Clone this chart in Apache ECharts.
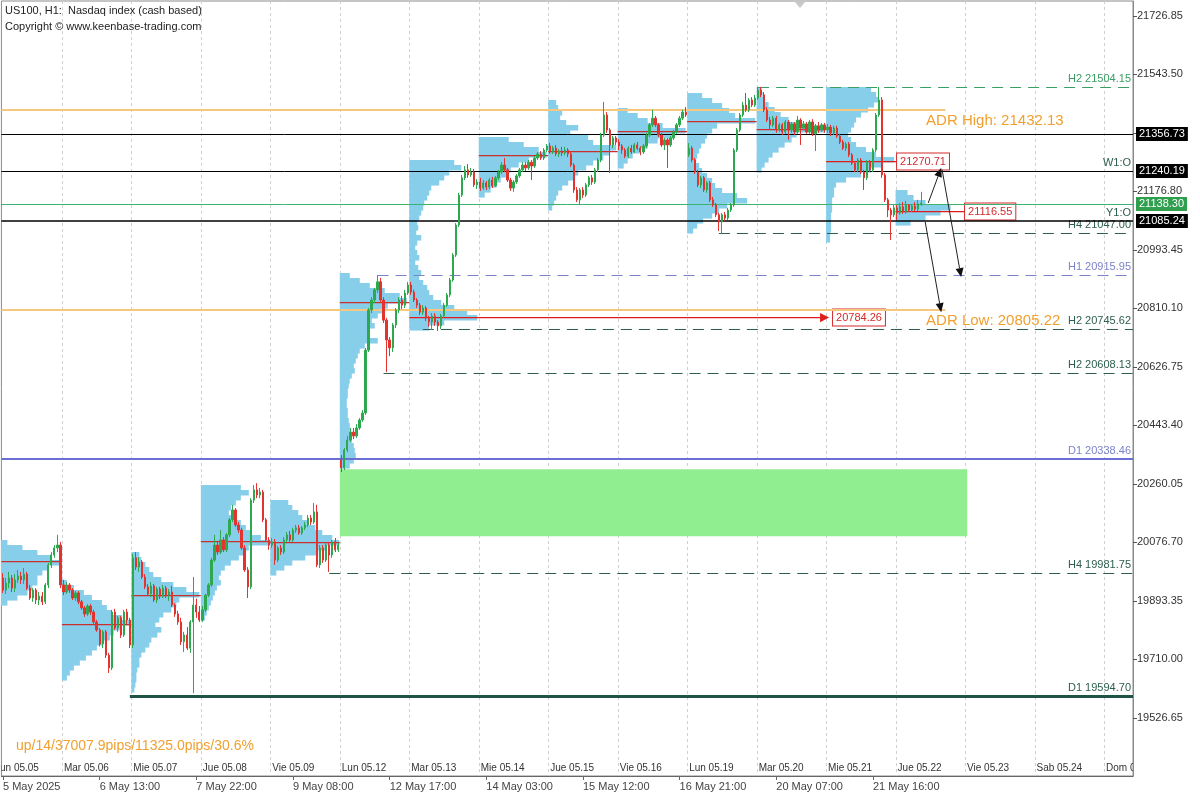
<!DOCTYPE html>
<html><head><meta charset="utf-8">
<script src="https://cdn.jsdelivr.net/npm/echarts@6/dist/echarts.min.js"></script>
<style>html,body{margin:0;padding:0;background:#fff}#c{width:1200px;height:800px}</style>
</head><body><div id="c"></div>
<script>
// ================= DATA =================
const firstBar = 3;          // bar index of the first visible H1 candle
const barsPerDay = 23;
// [open, close, low, high] per hourly bar
const bars = [
// Lun 05.05
[19965,19927,19918,19980],[19927,19949,19915,19965],[19949,19965,19933,19984],[19965,19933,19921,19974],[19933,19959,19921,19977],
[19959,19971,19949,19990],[19971,19959,19946,19984],[19959,19977,19946,19996],[19977,19933,19927,19984],[19933,19902,19896,19943],
[19902,19927,19890,19933],[19927,19896,19883,19933],[19896,19908,19880,19921],[19908,19890,19880,19921],[19890,19943,19883,19949],
[19943,20006,19933,20012],[20006,20037,19996,20046],[20037,20059,20028,20068],[20059,20068,20046,20100],[20068,19943,19933,20078],
// Mar 05.06
[19943,19921,19911,19959],[19921,19943,19915,19952],[19943,19927,19918,19949],[19927,19902,19896,19933],[19902,19918,19893,19924],
[19918,19890,19883,19924],[19890,19871,19865,19896],[19871,19852,19843,19877],[19852,19877,19846,19883],[19877,19858,19849,19883],
[19858,19827,19821,19865],[19827,19802,19796,19833],[19802,19758,19750,19808],[19758,19796,19745,19802],[19796,19723,19714,19802],
[19723,19683,19667,19730],[19683,19858,19676,19865],[19858,19808,19802,19868],[19808,19840,19796,19846],[19840,19786,19777,19846],
[19786,19858,19780,19865],[19858,19833,19821,19868],[19833,19755,19745,19840],
// Mie 05.07
[19755,20028,19745,20040],[20028,19999,19990,20046],[19999,20015,19984,20030],[20015,19968,19962,20021],[19968,19937,19930,19977],
[19937,19915,19908,19946],[19915,19940,19905,19952],[19940,19896,19890,19946],[19896,19930,19886,19937],[19930,19908,19899,19937],
[19908,19933,19902,19943],[19933,19911,19902,19940],[19911,19921,19893,19930],[19921,19880,19874,19940],[19880,19852,19843,19886],
[19852,19827,19818,19862],[19827,19765,19755,19840],[19765,19786,19733,19796],[19786,19745,19739,19811],[19745,19827,19730,19833],
[19827,19880,19604,19968],[19880,19858,19840,19900],[19858,19833,19827,19877],
// Jue 05.08
[19833,19865,19827,19877],[19865,19911,19858,19915],[19911,19943,19905,19949],[19943,20021,19937,20028],[20021,20068,20015,20100],
[20068,20046,20037,20078],[20046,20084,20040,20115],[20084,20053,20046,20093],[20053,20100,20046,20106],[20100,20147,20093,20153],
[20147,20178,20140,20194],[20178,20131,20125,20184],[20131,20115,20106,20140],[20115,20059,20053,20122],[20059,19990,19984,20068],
[19990,19937,19902,19999],[19937,20209,19930,20215],[20209,20241,20200,20256],[20241,20225,20215,20262],[20225,20234,20215,20247],
[20234,20147,20140,20241],[20147,20084,20078,20153],[20084,20068,20053,20093],
// Vie 05.09
[20068,20078,20059,20090],[20078,20021,20006,20087],[20021,20059,20015,20065],[20059,20046,20037,20068],[20046,20084,20040,20093],
[20084,20100,20078,20109],[20100,20084,20078,20112],[20084,20115,20078,20122],[20115,20122,20106,20131],[20122,20106,20100,20131],
[20106,20122,20100,20128],[20122,20131,20115,20140],[20131,20153,20125,20162],[20153,20140,20131,20162],[20140,20172,20134,20200],
[20172,20006,19999,20194],[20006,20059,19996,20068],[20059,20021,20012,20068],[20021,20068,20015,20078],[20068,20037,19984,20078],
[20037,20078,20028,20084],[20078,20053,20046,20090],[20053,20068,20046,20075],
// Lun 05.12
[20335,20310,20297,20350],[20310,20366,20303,20372],[20366,20397,20360,20410],[20397,20422,20391,20435],[20422,20410,20400,20435],
[20410,20435,20404,20447],[20435,20460,20429,20466],[20460,20482,20454,20491],[20482,20679,20476,20686],[20679,20805,20673,20811],
[20805,20836,20795,20845],[20836,20868,20827,20874],[20868,20893,20858,20914],[20893,20836,20827,20905],[20836,20773,20764,20845],
[20773,20711,20610,20780],[20711,20686,20660,20720],[20686,20758,20673,20764],[20758,20805,20748,20811],[20805,20836,20795,20845],
[20836,20820,20808,20849],[20820,20858,20811,20868],[20858,20883,20852,20893],
// Mar 05.13
[20883,20861,20852,20893],[20861,20836,20830,20868],[20836,20820,20811,20842],[20820,20798,20789,20827],[20798,20811,20789,20820],
[20811,20780,20770,20817],[20780,20767,20752,20786],[20767,20786,20742,20795],[20786,20767,20755,20795],[20767,20755,20739,20773],
[20755,20786,20745,20792],[20786,20820,20780,20827],[20820,20852,20814,20858],[20852,20899,20845,20905],[20899,20977,20893,20983],
[20977,21071,20971,21077],[21071,21165,21065,21172],[21165,21219,21159,21228],[21219,21244,21212,21256],[21244,21228,21219,21262],
[21228,21237,21222,21250],[21237,21197,21190,21247],[21197,21206,21184,21215],
// Mie 05.14
[21206,21187,21178,21219],[21187,21203,21181,21212],[21203,21190,21181,21209],[21190,21212,21184,21219],[21212,21194,21187,21222],
[21194,21219,21190,21225],[21219,21237,21212,21244],[21237,21259,21231,21268],[21259,21244,21237,21281],[21244,21212,21206,21250],
[21212,21187,21178,21219],[21187,21206,21175,21212],[21206,21225,21200,21231],[21225,21244,21219,21250],[21244,21259,21237,21268],
[21259,21250,21240,21268],[21250,21268,21244,21275],[21268,21256,21212,21275],[21256,21281,21250,21287],[21281,21294,21275,21300],
[21294,21281,21275,21303],[21281,21306,21275,21312],[21306,21319,21300,21325],
// Jue 05.15
[21319,21300,21294,21328],[21300,21312,21294,21319],[21312,21294,21287,21322],[21294,21303,21284,21309],[21303,21297,21287,21316],
[21297,21306,21290,21316],[21306,21294,21284,21312],[21294,21259,21253,21303],[21259,21181,21172,21265],[21181,21150,21143,21190],
[21150,21181,21134,21187],[21181,21165,21156,21190],[21165,21197,21159,21203],[21197,21219,21190,21225],[21219,21206,21197,21228],
[21206,21244,21200,21250],[21244,21275,21237,21281],[21275,21353,21268,21360],[21353,21416,21347,21457],[21416,21369,21360,21425],
[21369,21322,21234,21375],[21322,21344,21312,21350],[21344,21331,21322,21350],
// Vie 05.16
[21331,21319,21306,21340],[21319,21306,21294,21325],[21306,21287,21281,21312],[21287,21312,21281,21318],[21312,21300,21294,21322],
[21300,21322,21297,21328],[21322,21312,21306,21331],[21312,21300,21290,21318],[21300,21319,21294,21325],[21319,21353,21312,21360],
[21353,21385,21347,21391],[21385,21406,21378,21432],[21406,21385,21378,21413],[21385,21353,21347,21391],[21353,21322,21316,21360],
[21322,21338,21306,21344],[21338,21322,21250,21344],[21322,21344,21316,21350],[21344,21363,21338,21369],[21363,21385,21357,21391],
[21385,21406,21378,21413],[21406,21425,21400,21432],[21425,21416,21410,21441],
// Lun 05.19
[21291,21312,21284,21328],[21312,21275,21268,21319],[21275,21237,21231,21281],[21237,21197,21190,21244],[21197,21219,21187,21225],
[21219,21181,21175,21225],[21181,21203,21172,21209],[21203,21150,21143,21209],[21150,21134,21128,21159],[21134,21103,21096,21140],
[21103,21081,21052,21109],[21081,21103,21043,21109],[21103,21093,21084,21112],[21093,21118,21087,21125],[21118,21134,21112,21140],
[21134,21306,21128,21312],[21306,21369,21300,21375],[21369,21416,21363,21422],[21416,21447,21410,21457],[21447,21432,21425,21485],
[21432,21463,21425,21469],[21463,21447,21441,21472],[21447,21469,21441,21479],
// Mar 05.20
[21469,21494,21463,21504],[21494,21479,21472,21504],[21479,21432,21425,21488],[21432,21400,21394,21441],[21400,21385,21369,21410],
[21385,21406,21378,21413],[21406,21369,21360,21413],[21369,21385,21363,21391],[21385,21363,21353,21391],[21363,21394,21357,21400],
[21394,21369,21338,21400],[21369,21388,21360,21394],[21388,21363,21353,21394],[21363,21400,21357,21413],[21400,21375,21322,21406],
[21375,21388,21369,21397],[21388,21363,21357,21394],[21363,21394,21357,21400],[21394,21357,21350,21403],[21357,21382,21303,21388],
[21382,21369,21360,21394],[21369,21385,21363,21391],[21385,21369,21360,21391],
// Mie 05.21
[21369,21378,21360,21388],[21378,21360,21350,21385],[21360,21375,21353,21382],[21375,21350,21344,21382],[21350,21331,21325,21357],
[21331,21312,21306,21338],[21312,21325,21303,21331],[21325,21291,21284,21331],[21291,21265,21259,21297],[21265,21244,21237,21272],
[21244,21275,21237,21281],[21275,21237,21231,21281],[21237,21219,21181,21244],[21219,21268,21212,21275],[21268,21244,21237,21275],
[21244,21306,21237,21312],[21306,21416,21300,21422],[21416,21463,21410,21504],[21463,21228,21219,21472],[21228,21150,21143,21234],
[21150,21118,21096,21156],[21118,21103,21024,21125],[21103,21125,21096,21134],
// Jue 05.22
[21125,21109,21087,21134],[21109,21128,21103,21140],[21128,21112,21106,21143],[21112,21134,21106,21147],[21134,21118,21112,21137],
[21118,21131,21112,21137],[21131,21121,21115,21143],[21121,21137,21115,21150],[21137,21140,21131,21175]
];

const dayLabels = ['Lun 05.05','Mar 05.06','Mie 05.07','Jue 05.08','Vie 05.09','Lun 05.12','Mar 05.13','Mie 05.14',
  'Jue 05.15','Vie 05.16','Lun 05.19','Mar 05.20','Mie 05.21','Jue 05.22','Vie 05.23','Sab 05.24','Dom 05.25'];
const timeTickBars = [3,35,67,99,131,163,195,227,259,291];
const timeTickLabels = ['5 May 2025','6 May 13:00','7 May 22:00','9 May 08:00','12 May 17:00','14 May 03:00',
  '15 May 12:00','16 May 21:00','20 May 07:00','21 May 16:00'];
const priceTicks = [19526.65,19710.00,19893.35,20076.70,20260.05,20443.40,20626.75,20810.10,20993.45,21176.80,21360.15,21543.50,21726.85];

// daily volume profiles: top price of first bin + volumes per bin (top to bottom)
const profileBin = 15.67;
const profileTops = [20083.9,19958.5,20046.3,20256.3,20209.3,20920.7,21274.9,21347.0,21463.0,21437.9,21484.9,21503.7,21503.7,21180.9];
const profileVols = [
 [15,30,45,58,68,55,50,45,45,40,35,25,15],
 [5,12,22,30,40,45,50,60,68,58,52,48,40,35,30,24,18,12,8,5],
 [8,10,14,18,22,30,42,55,68,48,45,40,32,28,24,30,26,20,18,14,10,8,8,6,5,5,4,3],
 [40,48,40,35,30,28,35,40,45,50,60,69,48,45,38,30,24,20,18,20,16,14,12,10,8,6,4],
 [18,22,28,32,38,45,52,62,69,55,48,35,22,14,6],
 [10,20,30,45,60,67,48,42,38,32,35,30,28,38,25,20,18,16,14,15,12,10,9,8,8,7,7,8,8,9,10,10,12,12,14,15,16,14,10],
 [45,52,40,35,30,22,20,18,15,14,12,10,8,9,7,12,8,6,8,10,6,9,12,10,14,18,20,24,32,45,58,68,35,20],
 [30,45,60,68,50,40,32,28,22,18,12,6],
 [8,10,14,12,18,30,22,40,45,68,62,55,45,38,30,25,20,14,10,8,6,4],
 [10,20,30,45,68,55,40,30,22,15,10,6],
 [15,25,35,42,48,68,30,25,20,18,14,12,10,9,12,15,20,25,28,35,50,60,40,32,25,16,10,6],
 [5,6,8,12,18,24,32,45,68,40,35,28,22,16,12,8,5],
 [45,50,52,48,42,35,30,28,25,22,25,30,40,50,68,55,45,35,20,10,8,8,6,6,6,5,5,5,5,4,4],
 [12,18,30,55,45,30,15]
];
const pocPrices = [20018.1,19820.6,19911.5,20080.8,20077.6,20829.8,20784.26,21290.6,21303.1,21365.8,21397.1,21372.1,21270.71,21116.55];
const extPocDays = [6,12,13];
const extPocEndBars = [277.8,299.0,321.5];
const extPocTexts = ['20784.26','21270.71','21116.55'];

// horizontal levels
const levelPrices = [21504.15,21047.00,20915.95,20745.62,20608.13,20338.46,19981.75,19594.70,21356.73,21240.19,21138.30,21085.24];
const levelStartBars = [253,240,127,142,129,null,111,45,null,null,null,null];
const levelTexts = ['H2 21504.15','H4 21047.00','H1 20915.95','H2 20745.62','H2 20608.13','D1 20338.46','H4 19981.75','D1 19594.70','','W1:O','','Y1:O'];
const priceTags = [21356.73,21240.19,21138.30,21085.24];

const adrHigh = 21432.13, adrLow = 20805.22, adrEndBar = 315, adrTextBar = 308.6;
const zoneStartBar = 114.5, zoneEndBar = 322.2, zoneTop = 20306, zoneBottom = 20096;
// projected moves: [fromBar, fromPrice, toBar, toPrice]
const arrows = [[309.3,21140,313.6,21250],[313.9,21244,320.2,20908],[308.3,21081,313.6,20798]];

// ================= CHART =================
const X_MIN = 2.48, X_MAX = 377.1, Y_MIN = 19344.2, Y_MAX = 21773.2;
const VOL_TO_BARS = 1/3.0217;
const FONT = '"Liberation Sans", Arial, sans-serif';
const fnt = (s) => s + 'px ' + FONT;

const candleData = bars.map((b,k)=>[firstBar+k, b[0], b[1], b[2], b[3]]);
const profileRects = [];
profileVols.forEach((vols,d)=>{
  const x0 = d*barsPerDay - 0.5;
  vols.forEach((v,r)=>{ const top = profileTops[d]-r*profileBin; profileRects.push([x0, top, top-profileBin, v]); });
});
const pocData = pocPrices.map((p,d)=>{
  const e = extPocDays.indexOf(d);
  return [d*barsPerDay-0.5, p, e>=0 ? extPocEndBars[e] : (d+1)*barsPerDay-0.5, e];
});
function levelStyle(i){
  const t = levelTexts[i];
  if (i===8 || i===9) return {c:'#000', w:1, dash:null, tc:'#2d5e4e'};
  if (i===11) return {c:'#000', w:1.5, dash:null, tc:'#2d5e4e'};
  if (i===10) return {c:'#3cb371', w:1, dash:null, tc:'#2d5e4e'};
  if (t==='H2 21504.15') return {c:'#3a9d64', w:1, dash:[11,7], tc:'#3a9d64'};
  if (t.startsWith('H1')) return {c:'#7c82c8', w:1, dash:[11,7], tc:'#7c82c8'};
  if (t==='D1 20338.46') return {c:'#6a6fd4', w:2, dash:null, tc:'#7c82c8'};
  if (t==='D1 19594.70') return {c:'#1d5445', w:3, dash:null, tc:'#2d5e4e'};
  return {c:'#2d5e4e', w:1, dash:[11,7], tc:'#2d5e4e'};
}

const chart = echarts.init(document.getElementById('c'), null, {renderer:'canvas'});
chart.setOption({
  animation:false,
  backgroundColor:'#fff',
  textStyle:{fontFamily:FONT},
  title:[
    {text:'US100, H1:  Nasdaq index (cash based)', left:5, top:5, padding:0, textStyle:{fontSize:11, fontWeight:'normal', color:'#222', fontFamily:FONT}},
    {text:'Copyright © www.keenbase-trading.com', left:5, top:21, padding:0, textStyle:{fontSize:11, fontWeight:'normal', color:'#222', fontFamily:FONT}},
    {text:'up/14/37007.9pips/11325.0pips/30.6%', left:16, top:739, padding:0, textStyle:{fontSize:14, fontWeight:'normal', color:'#f0a030', fontFamily:FONT}}
  ],
  graphic:[{type:'polygon', shape:{points:[[795,2],[805,2],[800,8]]}, style:{fill:'#c8c8c8'}, z:100}],
  grid:{left:1, right:67, top:1, bottom:24, show:true, borderColor:'#8a8a8a', borderWidth:1},
  xAxis:{type:'value', min:X_MIN, max:X_MAX, splitLine:{show:false},
    axisLine:{show:true, onZero:false, lineStyle:{color:'#666'}},
    axisTick:{show:true, customValues:timeTickBars, length:4, lineStyle:{color:'#666'}},
    axisLabel:{customValues:timeTickBars, formatter:(v)=>{const k=timeTickBars.indexOf(Math.round(v)); return k>=0?timeTickLabels[k]:'';},
      align:'left', color:'#444', fontSize:11, margin:5, fontFamily:FONT}},
  yAxis:{type:'value', position:'right', min:Y_MIN, max:Y_MAX, scale:true, splitLine:{show:false},
    axisLine:{show:true, lineStyle:{color:'#8a8a8a'}},
    axisTick:{show:true, customValues:priceTicks, length:4, lineStyle:{color:'#555'}},
    axisLabel:{customValues:priceTicks, formatter:(v)=>v.toFixed(2), color:'#333', fontSize:11, margin:4, fontFamily:FONT}},
  series:[
    { // day separators + day names
      type:'custom', coordinateSystem:'cartesian2d', clip:false, silent:true,
      data: dayLabels.map((t,k)=>[k*barsPerDay-0.5, Y_MIN, k]), encode:{x:0,y:1},
      renderItem:(params, api)=>{
        const cs = params.coordSys; const p = api.coord([api.value(0), api.value(1)]);
        const k = api.value(2);
        const ch = [{type:'text', x:p[0]+2, y:cs.y+cs.height-3,
          style:{text:dayLabels[k], font:fnt(10), fill:'#333', align:'left', verticalAlign:'bottom'}}];
        if (p[0] > cs.x+2) ch.unshift({type:'line', shape:{x1:Math.round(p[0])+0.5, y1:cs.y, x2:Math.round(p[0])+0.5, y2:cs.y+cs.height},
          style:{stroke:'#cfcfcf', lineWidth:1, lineDash:[3,3]}});
        return {type:'group', children:ch,
          clipPath:{type:'rect', shape:{x:cs.x, y:cs.y, width:cs.width, height:cs.height}}};
      }
    },
    { // supply/demand zone
      type:'custom', coordinateSystem:'cartesian2d', silent:true,
      data:[[zoneStartBar, zoneTop, zoneEndBar, zoneBottom]], encode:{x:0,y:1},
      renderItem:(params, api)=>{
        const a = api.coord([api.value(0), api.value(1)]), b = api.coord([api.value(2), api.value(3)]);
        return {type:'rect', shape:{x:a[0], y:a[1], width:b[0]-a[0], height:b[1]-a[1]}, style:{fill:'#90ee90'}};
      }
    },
    { // volume profiles
      type:'custom', coordinateSystem:'cartesian2d', clip:true, silent:true,
      data: profileRects, encode:{x:0,y:1},
      renderItem:(params, api)=>{
        const x0 = api.value(0), v = api.value(3);
        const a = api.coord([x0, api.value(1)]), b = api.coord([x0 + v*VOL_TO_BARS, api.value(2)]);
        return {type:'rect', shape:{x:a[0], y:a[1], width:b[0]-a[0], height:b[1]-a[1]+0.6}, style:{fill:'#87ceeb'}};
      }
    },
    { // POC lines
      type:'custom', coordinateSystem:'cartesian2d', clip:false, silent:true,
      data: pocData, encode:{x:0,y:1},
      renderItem:(params, api)=>{
        const cs = params.coordSys;
        const a = api.coord([api.value(0), api.value(1)]), b = api.coord([api.value(2), api.value(1)]);
        const e = api.value(3);
        const y = Math.round(a[1]);
        const x1 = Math.max(a[0], cs.x);
        const ch = [{type:'rect', shape:{x:x1, y:y, width:b[0]-(e===0?6:0)-x1, height:1.3}, style:{fill: e>=0 ? '#e01b1b' : '#c9302c'}}];
        if (e>=0){
          if (e===0) ch.push({type:'polygon', shape:{points:[[b[0]-4,y+0.6],[b[0]-13,y-4],[b[0]-13,y+5.2]]}, style:{fill:'#e01e1e'}});
          ch.push({type:'text', x:b[0], y:y+0.5, style:{text:extPocTexts[e], font:fnt(11), fill:'#d42a2a', align:'left', verticalAlign:'middle',
            backgroundColor:'#fff', borderColor:'#d42a2a', borderWidth:1, padding:[3,3,2,3]}});
        }
        return {type:'group', children:ch};
      }
    },
    { // horizontal levels
      type:'custom', coordinateSystem:'cartesian2d', clip:false, silent:true,
      data: levelPrices.map((p,i)=>[levelStartBars[i]==null ? X_MIN : levelStartBars[i], p, i]), encode:{x:0,y:1},
      renderItem:(params, api)=>{
        const cs = params.coordSys; const i = api.value(2);
        const a = api.coord([api.value(0), api.value(1)]);
        const s = levelStyle(i);
        const y = s.w%2===1 ? Math.round(a[1])+0.5 : Math.round(a[1]);
        const x2 = cs.x+cs.width;
        const ch = [{type:'line', shape:{x1:Math.max(a[0],cs.x), y1:y, x2:x2, y2:y}, style:{stroke:s.c, lineWidth:s.w, lineDash:s.dash}}];
        if (levelTexts[i]) ch.push({type:'text', x:x2-2, y:y-3, style:{text:levelTexts[i], font:fnt(11), fill:s.tc, align:'right', verticalAlign:'bottom'}});
        return {type:'group', children:ch};
      }
    },
    { // ADR lines
      type:'custom', coordinateSystem:'cartesian2d', clip:false, silent:true,
      data:[[X_MIN, adrHigh, 0],[X_MIN, adrLow, 1]], encode:{x:0,y:1},
      renderItem:(params, api)=>{
        const cs = params.coordSys; const p = api.value(1);
        const a = api.coord([api.value(0), p]), b = api.coord([adrEndBar, p]), t = api.coord([adrTextBar, p]);
        const y = Math.round(a[1]);
        return {type:'group', children:[
          {type:'line', shape:{x1:cs.x, y1:y, x2:b[0], y2:y}, style:{stroke:'#f7c77e', lineWidth:2}},
          {type:'text', x:t[0], y:y+3, style:{text:(api.value(2)===0?'ADR High: ':'ADR Low: ')+p.toFixed(2), font:fnt(15), fill:'#f0a030', align:'left', verticalAlign:'top'}}
        ]};
      }
    },
    { // candles
      type:'candlestick', data:candleData, encode:{x:0, y:[1,2,3,4]}, barWidth:1.8, silent:true, clip:true,
      itemStyle:{color:'#2ea84f', color0:'#e2332f', borderColor:'#2ea84f', borderColor0:'#e2332f', borderWidth:1}
    },
    { // projection arrows
      type:'custom', coordinateSystem:'cartesian2d', clip:false, silent:true,
      data: arrows, encode:{x:0,y:1},
      renderItem:(params, api)=>{
        const a = api.coord([api.value(0), api.value(1)]), b = api.coord([api.value(2), api.value(3)]);
        const dx = b[0]-a[0], dy = b[1]-a[1], L = Math.hypot(dx,dy), ux = dx/L, uy = dy/L;
        const hl = 9, hw = 4;
        const bx = b[0]-ux*hl, by = b[1]-uy*hl;
        return {type:'group', children:[
          {type:'line', shape:{x1:a[0], y1:a[1], x2:bx, y2:by}, style:{stroke:'#222', lineWidth:1}},
          {type:'polygon', shape:{points:[[b[0],b[1]],[bx-uy*hw, by+ux*hw],[bx+uy*hw, by-ux*hw]]}, style:{fill:'#111'}}
        ]};
      }
    },
    { // price tags on the right scale
      type:'custom', coordinateSystem:'cartesian2d', clip:false, silent:true,
      data: priceTags.map((p,i)=>[X_MAX, p, i]), encode:{x:0,y:1},
      renderItem:(params, api)=>{
        const cs = params.coordSys; const i = api.value(2); const p = api.value(1);
        const a = api.coord([api.value(0), p]);
        return {type:'text', x:cs.x+cs.width+3, y:Math.round(a[1]), z2:50,
          style:{text:p.toFixed(2), font:fnt(11), fill:'#fff', align:'left', verticalAlign:'middle',
            backgroundColor: i===2 ? '#2f9e4f' : '#000', padding:[2,3,1,3]}};
      }
    }
  ]
});
</script>
</body></html>
